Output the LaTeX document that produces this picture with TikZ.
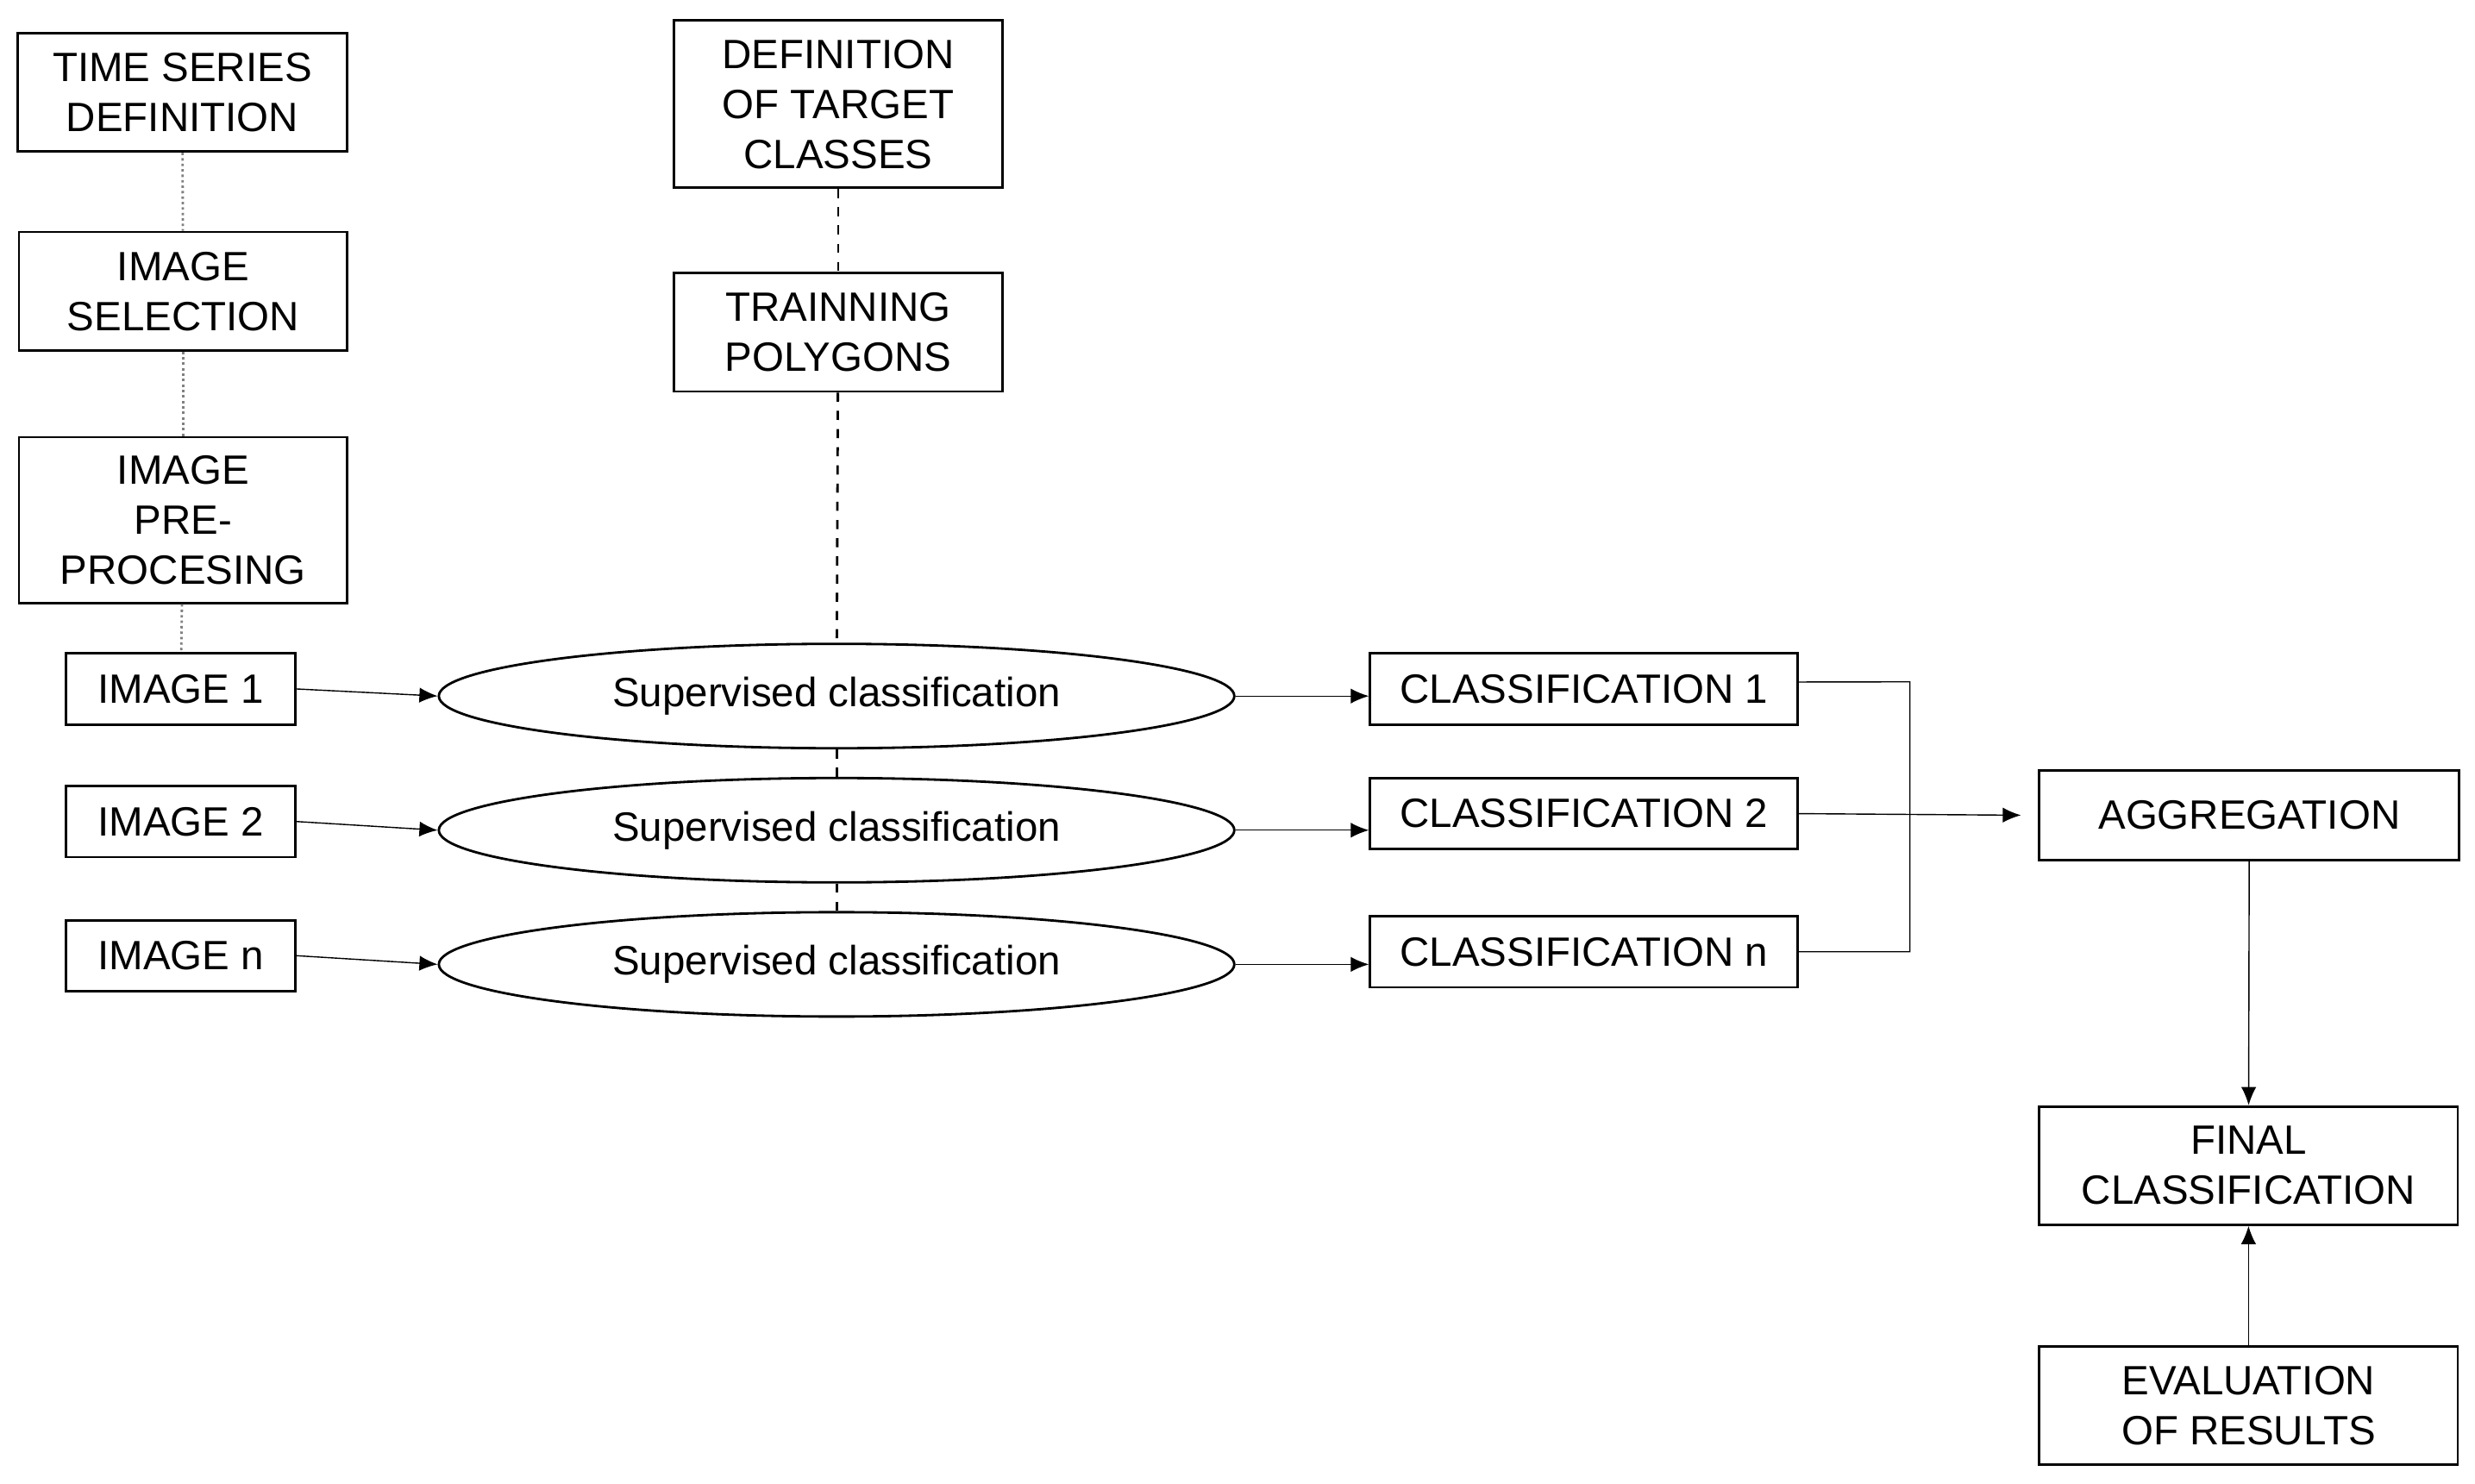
\documentclass[tikz,border=0pt]{standalone}
\usepackage{fontspec}
\setmainfont{Liberation Sans}
\usetikzlibrary{shapes.geometric,arrows.meta}
\begin{document}
\begin{tikzpicture}[x=0.0183cm,y=-0.0183cm,
  box/.style={draw,thick,inner sep=0pt,align=center,font=\fontsize{13.5}{16.5}\selectfont},
  ell/.style={draw,thick,ellipse,inner sep=0pt,minimum width=9.22cm,minimum height=1.21cm,font=\fontsize{13.5}{16.5}\selectfont},
  arr/.style={-{Latex[length=6pt,width=5pt]},thin},
  dot/.style={gray,densely dotted,thick},
  dsh/.style={black,dashed,thick}]
\useasboundingbox (0,0) rectangle (1568,940);
\newcommand{\bx}[6]{\node[box,minimum width=#4*0.0183cm,minimum height=#5*0.0183cm] (#1) at (#2,#3) {#6};}
\bx{ts}{115.5}{58.5}{209}{75}{TIME SERIES\\DEFINITION}
\bx{is}{116}{184.5}{208}{75}{IMAGE\\SELECTION}
\bx{ipp}{116}{329.5}{208}{105}{IMAGE\\PRE-\\PROCESING}
\bx{i1}{114.5}{436.5}{145}{45}{IMAGE 1}
\bx{i2}{114.5}{520.5}{145}{45}{IMAGE 2}
\bx{in}{114.5}{605.5}{145}{45}{IMAGE n}
\bx{dtc}{531}{66}{208}{106}{DEFINITION\\OF TARGET\\CLASSES}
\bx{tp}{531}{210.5}{208}{75}{TRAINNING\\POLYGONS}
\bx{c1}{1003.5}{436.5}{271}{45}{CLASSIFICATION 1}
\bx{c2}{1003.5}{515.5}{271}{45}{CLASSIFICATION 2}
\bx{cn}{1003.5}{603}{271}{45}{CLASSIFICATION n}
\bx{agg}{1425}{516.5}{266}{57}{AGGREGATION}
\bx{fin}{1424.5}{738.5}{265}{75}{FINAL\\CLASSIFICATION}
\bx{ev}{1424.5}{890.5}{265}{75}{EVALUATION\\OF RESULTS}
\node[ell] (e1) at (530,441) {Supervised classification};
\node[ell] (e2) at (530,526) {Supervised classification};
\node[ell] (e3) at (530,611) {Supervised classification};
\draw[dot] (ts) -- (is); \draw[dot] (is) -- (ipp); \draw[dot] (ipp) -- (i1);
\draw[dsh] (dtc) -- (tp); \draw[dsh] (tp) -- (e1); \draw[dsh] (e1) -- (e2); \draw[dsh] (e2) -- (e3);
\draw[arr] (i1.east) -- (e1.west);
\draw[arr] (i2.east) -- (e2.west);
\draw[arr] (in.east) -- (e3.west);
\draw[arr] (e1.east) -- (e1.east -| c1.west);
\draw[arr] (e2.east) -- (e2.east -| c2.west);
\draw[arr] (e3.east) -- (e3.east -| cn.west);
\coordinate (bt) at (1210,432); \coordinate (bb) at (1210,603);
\draw[thin] ([yshift=0.08cm]c1.east) -- (bt) -- (bb) -- (cn.east);
\draw[arr] (c2.east) -- ([xshift=-0.2cm]agg.west);
\draw[arr] (agg) -- (fin);
\draw[arr] (ev) -- (fin);
\end{tikzpicture}
\end{document}
